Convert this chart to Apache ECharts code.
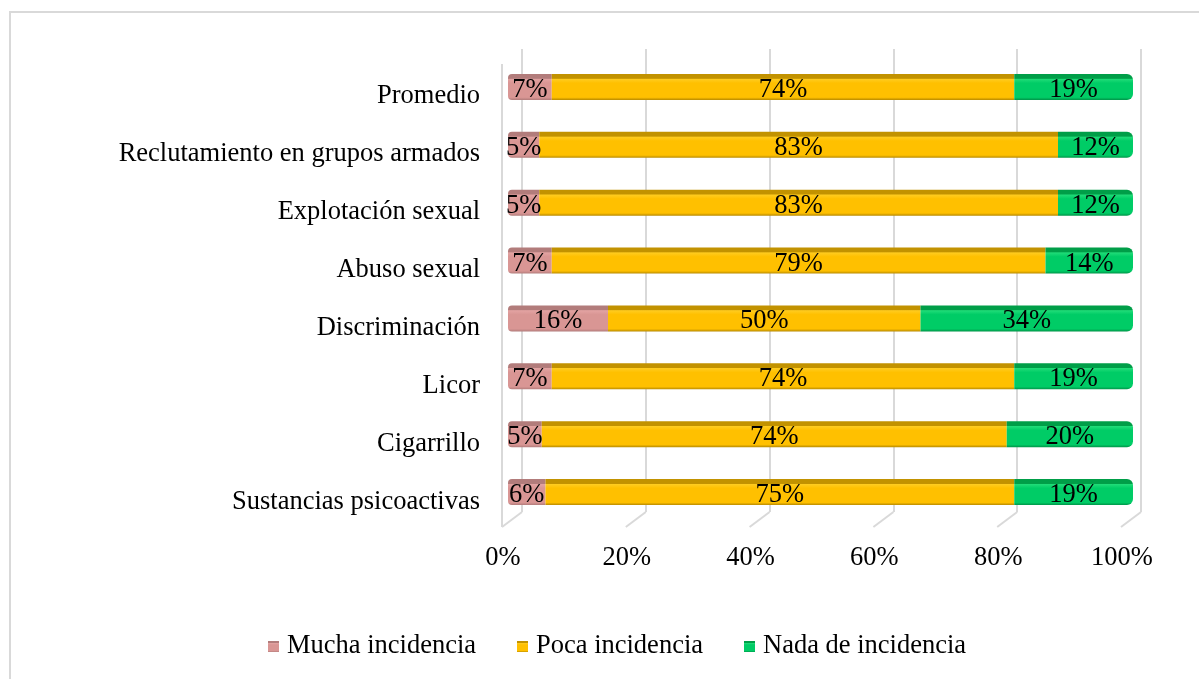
<!DOCTYPE html>
<html>
<head>
<meta charset="utf-8">
<script src="https://cdn.jsdelivr.net/npm/echarts@6/dist/echarts.min.js"></script>
<style>
  html, body { margin: 0; padding: 0; background: #fff; }
  #chart { width: 1199px; height: 679px; }
</style>
</head>
<body>
<div id="chart"></div>
<script>
const categories = [
    'Promedio',
    'Reclutamiento en grupos armados',
    'Explotación sexual',
    'Abuso sexual',
    'Discriminación',
    'Licor',
    'Cigarrillo',
    'Sustancias psicoactivas',
];
const muchaIncidencia = [7, 5, 5, 7, 16, 7, 5.4, 6];
const pocaIncidencia = [74, 83, 83, 79, 50, 74, 74.4, 75];
const nadaIncidencia = [19, 12, 12, 14, 34, 19, 20.2, 19];
const axisTicks = [0, 20, 40, 60, 80, 100];
const seriesNames = ['Mucha incidencia', 'Poca incidencia', 'Nada de incidencia'];

const FONT = 'Liberation Serif';
const FONT_SIZE = 26.5;
const GRID_COLOR = '#D9D9D9';

// 3D-ish shading: darker top face, main face, darker bottom edge
const shade = (top, light, main, bottom) => new echarts.graphic.LinearGradient(0, 0, 0, 1, [
    {offset: 0, color: top},
    {offset: 0.17, color: top},
    {offset: 0.2, color: light},
    {offset: 0.35, color: main},
    {offset: 0.9, color: main},
    {offset: 1, color: bottom},
]);

const pinkFill = shade('#B27C7B', '#E3A3A2', '#D99694', '#B27C7B');
const yellowFill = shade('#C29200', '#FFCC20', '#FFC000', '#B88A00');
const greenFill = shade('#009E48', '#20DC78', '#00CC66', '#009448');

const segmentLabel = {
    show: true,
    position: 'inside',
    color: '#000',
    fontFamily: FONT,
    fontSize: FONT_SIZE,
    offset: [0, 3],
    formatter: p => Math.round(p.value) + '%',
};

const legendAt = (name, left) => ({
    left,
    bottom: 14,
    icon: 'rect',
    itemWidth: 11,
    itemHeight: 11,
    textStyle: {fontFamily: FONT, fontSize: FONT_SIZE, color: '#000', padding: [0, 0, 0, 3]},
    data: [name],
});

const chart = echarts.init(document.getElementById('chart'));
chart.setOption({
    animation: false,
    backgroundColor: '#fff',
    graphic: [{
        type: 'rect',
        shape: {x: 10, y: 12, width: 1300, height: 800},
        style: {fill: 'none', stroke: GRID_COLOR, lineWidth: 2},
        silent: true,
        z: -10,
    }],
    legend: [
        legendAt(seriesNames[0], 263),
        legendAt(seriesNames[1], 512),
        legendAt(seriesNames[2], 739),
    ],
    grid: [
        {left: 508, width: 625, top: 58, height: 463},
        {left: 522, width: 619, top: 49, height: 463},
        {left: 503, width: 619, top: 64, height: 463},
    ],
    xAxis: [
        {gridIndex: 0, type: 'value', min: 0, max: 100, show: false},
        {
            gridIndex: 1, type: 'value', min: 0, max: 100, interval: 20,
            axisLine: {show: false}, axisTick: {show: false}, axisLabel: {show: false},
            splitLine: {show: true, lineStyle: {color: GRID_COLOR, width: 2}},
        },
        {
            gridIndex: 2, type: 'value', min: 0, max: 100, interval: 20,
            axisLine: {show: false}, axisTick: {show: false}, splitLine: {show: false},
            axisLabel: {
                margin: 18,
                color: '#000',
                fontFamily: FONT,
                fontSize: FONT_SIZE,
                formatter: v => v + '%',
            },
        },
    ],
    yAxis: [
        {
            gridIndex: 0,
            type: 'category',
            inverse: true,
            data: categories,
            axisLine: {show: false},
            axisTick: {show: false},
            axisLabel: {
                margin: 28,
                color: '#000',
                fontFamily: FONT,
                fontSize: FONT_SIZE,
                verticalAlign: 'top',
                lineHeight: 19,
            },
        },
        {gridIndex: 1, type: 'value', min: 0, max: 1, show: false},
        {gridIndex: 2, type: 'value', min: 0, max: 1, show: false},
    ],
    series: [
        {
            // floor and side-wall edges of the 3D plot area
            type: 'custom',
            xAxisIndex: 1,
            yAxisIndex: 1,
            silent: true,
            z: 1,
            data: axisTicks,
            renderItem: (params, api) => {
                const v = api.value(0);
                const base = api.coord([v, 0]);
                const top = api.coord([v, 1]);
                const dx = -20, dy = 15;
                const style = {stroke: GRID_COLOR, lineWidth: 2, fill: 'none'};
                const children = [{
                    type: 'line',
                    shape: {x1: base[0], y1: base[1], x2: base[0] + dx, y2: base[1] + dy},
                    style,
                }];
                if (v === 0) {
                    children.push({
                        type: 'line',
                        shape: {x1: base[0] + dx, y1: top[1] + dy, x2: base[0] + dx, y2: base[1] + dy},
                        style,
                    });
                }
                return {type: 'group', children};
            },
        },
        {
            name: seriesNames[0],
            type: 'bar',
            stack: 'total',
            barWidth: 26,
            z: 3,
            itemStyle: {color: pinkFill, borderRadius: [4, 0, 0, 4]},
            label: segmentLabel,
            data: muchaIncidencia,
        },
        {
            name: seriesNames[1],
            type: 'bar',
            stack: 'total',
            barWidth: 26,
            z: 3,
            itemStyle: {color: yellowFill},
            label: segmentLabel,
            data: pocaIncidencia,
        },
        {
            name: seriesNames[2],
            type: 'bar',
            stack: 'total',
            barWidth: 26,
            z: 3,
            itemStyle: {color: greenFill, borderRadius: [0, 6, 6, 0]},
            label: segmentLabel,
            data: nadaIncidencia,
        },
    ],
});
</script>
</body>
</html>
